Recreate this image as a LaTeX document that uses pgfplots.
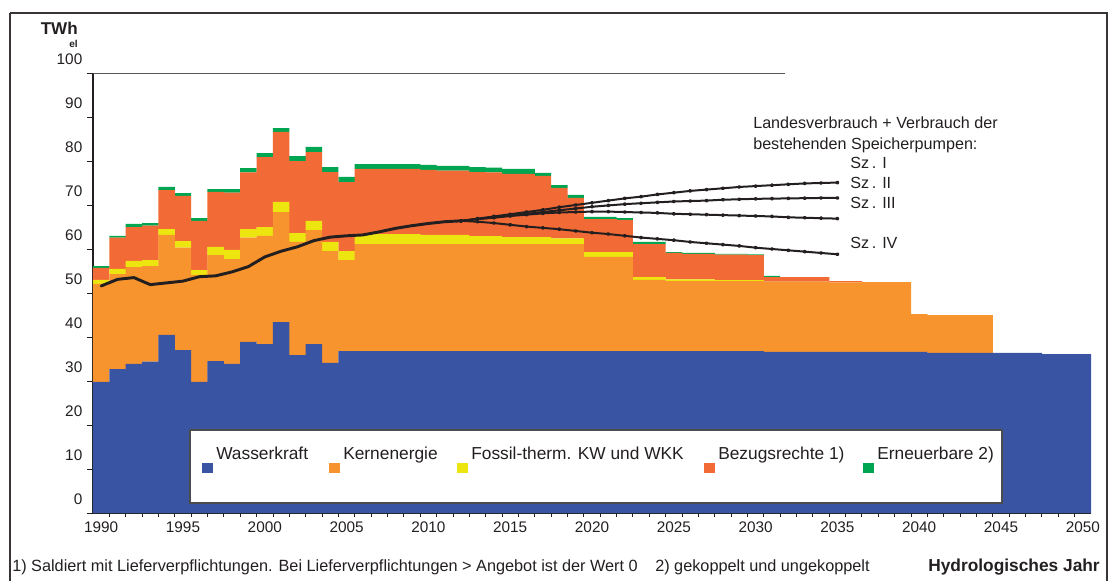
\documentclass[border=0pt]{standalone}
\usepackage{fontspec}
\setmainfont{Liberation Sans}
\usepackage{pgfplots}
\usepackage{pgfplotstable}
\pgfplotsset{compat=1.18}
\definecolor{cW}{HTML}{3A54A4}
\definecolor{cK}{HTML}{F7942D}
\definecolor{cF}{HTML}{EDE510}
\definecolor{cB}{HTML}{F26A36}
\definecolor{cE}{HTML}{00A551}
\definecolor{ink}{HTML}{231F20}

\pgfplotstableread{
year W K F B E
1990 29.8 22.3 0.9 2.7 0.4
1991 32.7 21.6 1.2 7.1 0.4
1992 33.9 22.0 1.4 7.7 0.7
1993 34.4 21.7 1.4 7.8 0.6
1994 40.5 22.7 1.3 8.9 0.7
1995 37.0 23.3 1.5 10.3 0.6
1996 29.8 24.3 1.1 11.2 0.6
1997 34.5 24.1 1.9 12.5 0.6
1998 33.9 23.8 2.1 13.0 0.8
1999 38.9 23.7 1.9 12.9 1.0
2000 38.4 24.6 2.0 15.9 0.9
2001 43.4 25.0 2.3 15.9 0.9
2002 35.9 25.7 2.0 16.4 1.1
2003 38.4 25.9 2.1 15.6 1.2
2004 34.1 25.4 2.1 15.9 1.1
2005 36.8 20.7 2.0 15.7 1.2
2006 36.8 24.3 2.3 14.8 1.1
2007 36.8 24.3 2.3 14.8 1.1
2008 36.8 24.3 2.3 14.8 1.1
2009 36.8 24.3 2.3 14.8 1.1
2010 36.8 24.3 2.1 14.8 1.1
2011 36.8 24.3 2.1 14.6 1.1
2012 36.8 24.3 2.1 14.6 1.1
2013 36.8 24.3 1.8 14.6 1.1
2014 36.8 24.3 1.8 14.5 1.1
2015 36.8 24.3 1.6 14.4 1.1
2016 36.8 24.3 1.6 14.4 1.1
2017 36.8 24.3 1.6 13.9 0.7
2018 36.8 24.3 1.3 11.5 0.6
2019 36.8 24.3 1.3 9.2 0.7
2020 36.8 21.4 1.1 7.5 0.5
2021 36.8 21.4 1.1 7.5 0.5
2022 36.8 21.4 1.1 7.3 0.4
2023 36.8 16.2 0.6 7.5 0.5
2024 36.8 16.2 0.6 7.5 0.5
2025 36.8 15.9 0.4 6.0 0.2
2026 36.8 15.9 0.4 5.8 0.2
2027 36.8 15.9 0.4 5.8 0.2
2028 36.8 15.9 0.2 5.8 0.2
2029 36.8 15.9 0.2 5.8 0.2
2030 36.8 15.9 0.2 5.7 0.2
2031 36.6 16.0 0 1.0 0.3
2032 36.6 16.0 0 1.0 0
2033 36.6 16.0 0 1.0 0
2034 36.6 16.0 0 1.0 0
2035 36.6 15.8 0 0.3 0
2036 36.6 15.8 0 0.3 0
2037 36.6 15.9 0 0 0
2038 36.6 15.9 0 0 0
2039 36.6 15.9 0 0 0
2040 36.6 8.6 0 0 0
2041 36.4 8.6 0 0 0
2042 36.4 8.6 0 0 0
2043 36.4 8.6 0 0 0
2044 36.4 8.6 0 0 0
2045 36.4 0 0 0 0
2046 36.4 0 0 0 0
2047 36.4 0 0 0 0
2048 36.1 0 0 0 0
2049 36.1 0 0 0 0
2050 36.1 0 0 0 0
}\mix

\pgfplotstableread{
year v
1990 51.6
1991 53.1
1992 53.5
1993 51.9
1994 52.3
1995 52.7
1996 53.7
1997 53.9
1998 54.8
1999 56.0
2000 58.2
2001 59.5
2002 60.5
2003 61.9
2004 62.7
2005 63.0
2006 63.2
2007 63.9
2008 64.7
2009 65.3
2010 65.8
2011 66.2
2012 66.4
}\hist

\pgfplotstableread{
year s1 s2 s3 s4
2012 66.4 66.4 66.4 66.4
2013 66.9 66.8 66.8 66.2
2014 67.4 67.2 67.1 65.9
2015 67.9 67.6 67.5 65.5
2016 68.4 68.0 67.8 65.1
2017 68.9 68.4 68.1 64.8
2018 69.5 68.8 68.3 64.5
2019 70.0 69.2 68.4 64.1
2020 70.5 69.6 68.5 63.7
2021 71.0 69.9 68.5 63.4
2022 71.5 70.2 68.4 63.0
2023 71.9 70.4 68.3 62.6
2024 72.4 70.6 68.2 62.3
2025 72.8 70.8 68.0 62.0
2026 73.2 70.9 67.9 61.6
2027 73.5 71.0 67.8 61.3
2028 73.8 71.2 67.7 61.0
2029 74.1 71.3 67.6 60.7
2030 74.3 71.4 67.5 60.3
2031 74.5 71.45 67.4 60.0
2032 74.7 71.5 67.2 59.7
2033 74.9 71.55 67.1 59.4
2034 75.0 71.6 67.0 59.1
2035 75.1 71.6 66.9 58.8
}\scen

\begin{document}
\begin{tikzpicture}
\useasboundingbox (0,0) rectangle (834pt,-435.75pt);
\begin{axis}[
  at={(69.75pt,-384.75pt)}, anchor=south west,
  scale only axis, width=748.5pt, height=330pt,
  xmin=1989.5, xmax=2050.5, ymin=0, ymax=100,
  clip=false,
  axis x line*=bottom, axis y line*=left,
  axis line style={ink, line width=0.8pt},
  ybar stacked, bar width=1.01,
  xtick={1990,1995,...,2050},
  minor xtick={1990.5,1991.5,...,2049.5},
  major x tick style={draw=none},
  ytick={0,10,...,100},
  tick align=outside,
  major tick length=4.5pt,
  minor tick length=3pt,
  tick style={ink, line width=0.6pt},
  /pgf/number format/assume math mode=true,
  /pgf/number format/1000 sep={},
  tick label style={font=\fontsize{11.5}{13}\selectfont, text=ink},
  yticklabel style={yshift=10.5pt},
  xticklabel style={yshift=1.5pt},
]
\addplot[fill=cW, draw=none] table[x=year,y=W]{\mix};
\addplot[fill=cK, draw=none] table[x=year,y=K]{\mix};
\addplot[fill=cF, draw=none] table[x=year,y=F]{\mix};
\addplot[fill=cB, draw=none] table[x=year,y=B]{\mix};
\addplot[fill=cE, draw=none] table[x=year,y=E]{\mix};
\draw[gray!70!black, line width=0.6pt] (axis cs:1989.5,100) -- (axis cs:2031.8,100);
\end{axis}
\begin{axis}[
  at={(69.75pt,-384.75pt)}, anchor=south west,
  scale only axis, width=748.5pt, height=330pt,
  xmin=1989.5, xmax=2050.5, ymin=0, ymax=100,
  hide axis, clip=false,
]
\addplot[ink, line width=2.2pt, line join=round, line cap=round] table[x=year,y=v]{\hist};
\addplot[ink, line width=1.5pt, line join=round, mark=*, mark size=0.75pt] table[x=year,y=s1]{\scen};
\addplot[ink, line width=1.5pt, line join=round, mark=*, mark size=0.75pt] table[x=year,y=s2]{\scen};
\addplot[ink, line width=1.5pt, line join=round, mark=*, mark size=0.75pt] table[x=year,y=s3]{\scen};
\addplot[ink, line width=1.5pt, line join=round, mark=*, mark size=0.75pt] table[x=year,y=s4]{\scen};
\end{axis}
\begin{scope}[x=0.75pt, y=-0.75pt]
  % outer frame
  \draw[ink!90, line width=1.5pt] (10,13) -- (10,581);
  \draw[ink!90, line width=1.5pt] (10,13) -- (1107,13) -- (1107,581);
  % unit
  \node[anchor=base east, inner sep=0pt, text=ink, font=\fontsize{12.8}{14}\selectfont\bfseries] at (78,35) {TWh};
  \node[anchor=base east, inner sep=0pt, text=ink, font=\fontsize{7.5}{8}\selectfont\bfseries] at (78,48) {el};
  % legend box
  \draw[fill=white, draw=gray!60!black, line width=1.1pt] (190,430) rectangle (1002,503);
  \foreach \c/\x/\t in {cW/202/Wasserkraft, cK/329/Kernenergie, cF/457/{Fossil-therm. KW und WKK}, cB/704/{Bezugsrechte 1)}, cE/863/{Erneuerbare 2)}}{
    \fill[\c] (\x,463) rectangle ++(10.5,10);
    \node[anchor=base west, inner sep=0pt, text=ink, font=\fontsize{13}{15}\selectfont] at (\x+14,459) {\t};
  }
  % annotations
  \node[anchor=base west, inner sep=0pt, text=ink, font=\fontsize{12.1}{14}\selectfont] at (753,129) {Landesverbrauch + Verbrauch der};
  \node[anchor=base west, inner sep=0pt, text=ink, font=\fontsize{12.1}{14}\selectfont] at (753,149) {bestehenden Speicherpumpen:};
  \foreach \y/\t in {168/I, 188/II, 208/III, 248/IV}{
    \node[anchor=base west, inner sep=0pt, text=ink, font=\fontsize{12.1}{14}\selectfont] at (850,\y) {Sz\thinspace. \t};
  }
  % footnotes
  \node[anchor=base west, inner sep=0pt, text=ink, font=\fontsize{12.2}{14}\selectfont] at (12,571) {1) Saldiert mit Lieferverpflichtungen. Bei Lieferverpflichtungen > Angebot ist der Wert 0};
  \node[anchor=base west, inner sep=0pt, text=ink, font=\fontsize{12.2}{14}\selectfont] at (655,571) {2) gekoppelt und ungekoppelt};
  \node[anchor=base east, inner sep=0pt, text=ink, font=\fontsize{13}{15}\selectfont\bfseries] at (1100,571) {Hydrologisches Jahr};
\end{scope}
\end{tikzpicture}
\end{document}
